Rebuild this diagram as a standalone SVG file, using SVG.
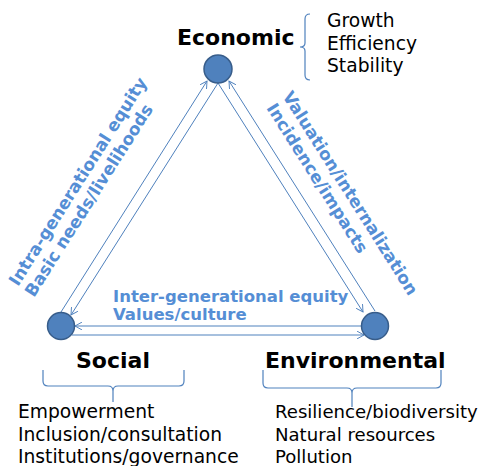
<svg xmlns="http://www.w3.org/2000/svg" width="481" height="466" viewBox="0 0 481 466">
<style>
.node{fill:#4F81BD;stroke:#385D8A;stroke-width:1.5}
.title{font-family:"DejaVu Sans",Verdana,sans-serif;font-weight:bold;font-size:22px;fill:#000}
.list{font-family:"DejaVu Sans",Verdana,sans-serif;font-size:18.7px;fill:#000}
.rlist{font-family:"DejaVu Sans",Verdana,sans-serif;font-size:18.1px;fill:#000}
.elabel{font-family:"DejaVu Sans",Verdana,sans-serif;font-weight:bold;font-size:16.5px;fill:#558ED5}
.rlabel{font-family:"DejaVu Sans",Verdana,sans-serif;font-weight:bold;font-size:17px;fill:#558ED5}
.conn{stroke:#4F81BD;stroke-width:1;fill:none}
.brace{stroke:#4F81BD;stroke-width:1.2;fill:none}
</style>
<defs>
<marker id="arr" viewBox="0 0 10 10" refX="9" refY="5" markerWidth="8" markerHeight="8" markerUnits="userSpaceOnUse" orient="auto">
<path d="M0,0 L9,5 L0,10" fill="none" stroke="#4F81BD" stroke-width="1.2"/>
</marker>
</defs>
<rect width="481" height="466" fill="#fff"/>
<g id="connectors">
<line class="conn" x1="61" y1="312" x2="207" y2="81" marker-end="url(#arr)"/>
<line class="conn" x1="218" y1="83" x2="71" y2="315" marker-end="url(#arr)"/>
<line class="conn" x1="375" y1="311" x2="229" y2="81" marker-end="url(#arr)"/>
<line class="conn" x1="218" y1="83" x2="363" y2="312" marker-end="url(#arr)"/>
<line class="conn" x1="362" y1="326" x2="75" y2="326" marker-end="url(#arr)"/>
<line class="conn" x1="72" y1="335" x2="364" y2="335" marker-end="url(#arr)"/>
<text class="elabel" x="113" y="302">Inter-generational equity</text>
<text class="elabel" x="113" y="320">Values/culture</text>
<text class="rlabel" transform="translate(18,287) rotate(-57.7)">Intra-generational equity</text>
<text class="rlabel" transform="translate(34,298) rotate(-57.7)">Basic needs/livelihoods</text>
<text class="rlabel" transform="translate(282,96) rotate(57.7)">Valuation/internalization</text>
<text class="rlabel" transform="translate(266,108) rotate(57.7)">Incidence/impacts</text>
</g>
<g id="economic">
<circle class="node" cx="218" cy="69" r="14"/>
<text class="title" x="177" y="45">Economic</text>
<path class="brace" d="M310,14 Q305,14 305,19 L305,43 Q305,47 300,47 Q305,47 305,51 L305,75 Q305,80 310,80"/>
<text class="list" x="327" y="27">Growth</text>
<text class="list" x="327" y="50">Efficiency</text>
<text class="list" x="327" y="72">Stability</text>
</g>
<g id="social">
<circle class="node" cx="61" cy="326" r="13.5"/>
<text class="title" x="76" y="368">Social</text>
<path class="brace" d="M43,370 L43,381 Q43,386 48,386 L108,386 Q113,386 113,391 L113,402 M113,391 Q113,386 118,386 L179,386 Q184,386 184,381 L184,370"/>
<text class="list" x="18" y="418">Empowerment</text>
<text class="list" x="18" y="441">Inclusion/consultation</text>
<text class="list" x="18" y="463">Institutions/governance</text>
</g>
<g id="environmental">
<circle class="node" cx="375" cy="326" r="13.5"/>
<text class="title" x="265" y="368">Environmental</text>
<path class="brace" d="M263,370 L263,383 Q263,388 268,388 L347,388 Q352,388 352,393 L352,407 M352,393 Q352,388 357,388 L436,388 Q441,388 441,383 L441,370"/>
<text class="rlist" x="275" y="418">Resilience/biodiversity</text>
<text class="rlist" x="275" y="441">Natural resources</text>
<text class="rlist" x="275" y="463">Pollution</text>
</g>
</svg>
